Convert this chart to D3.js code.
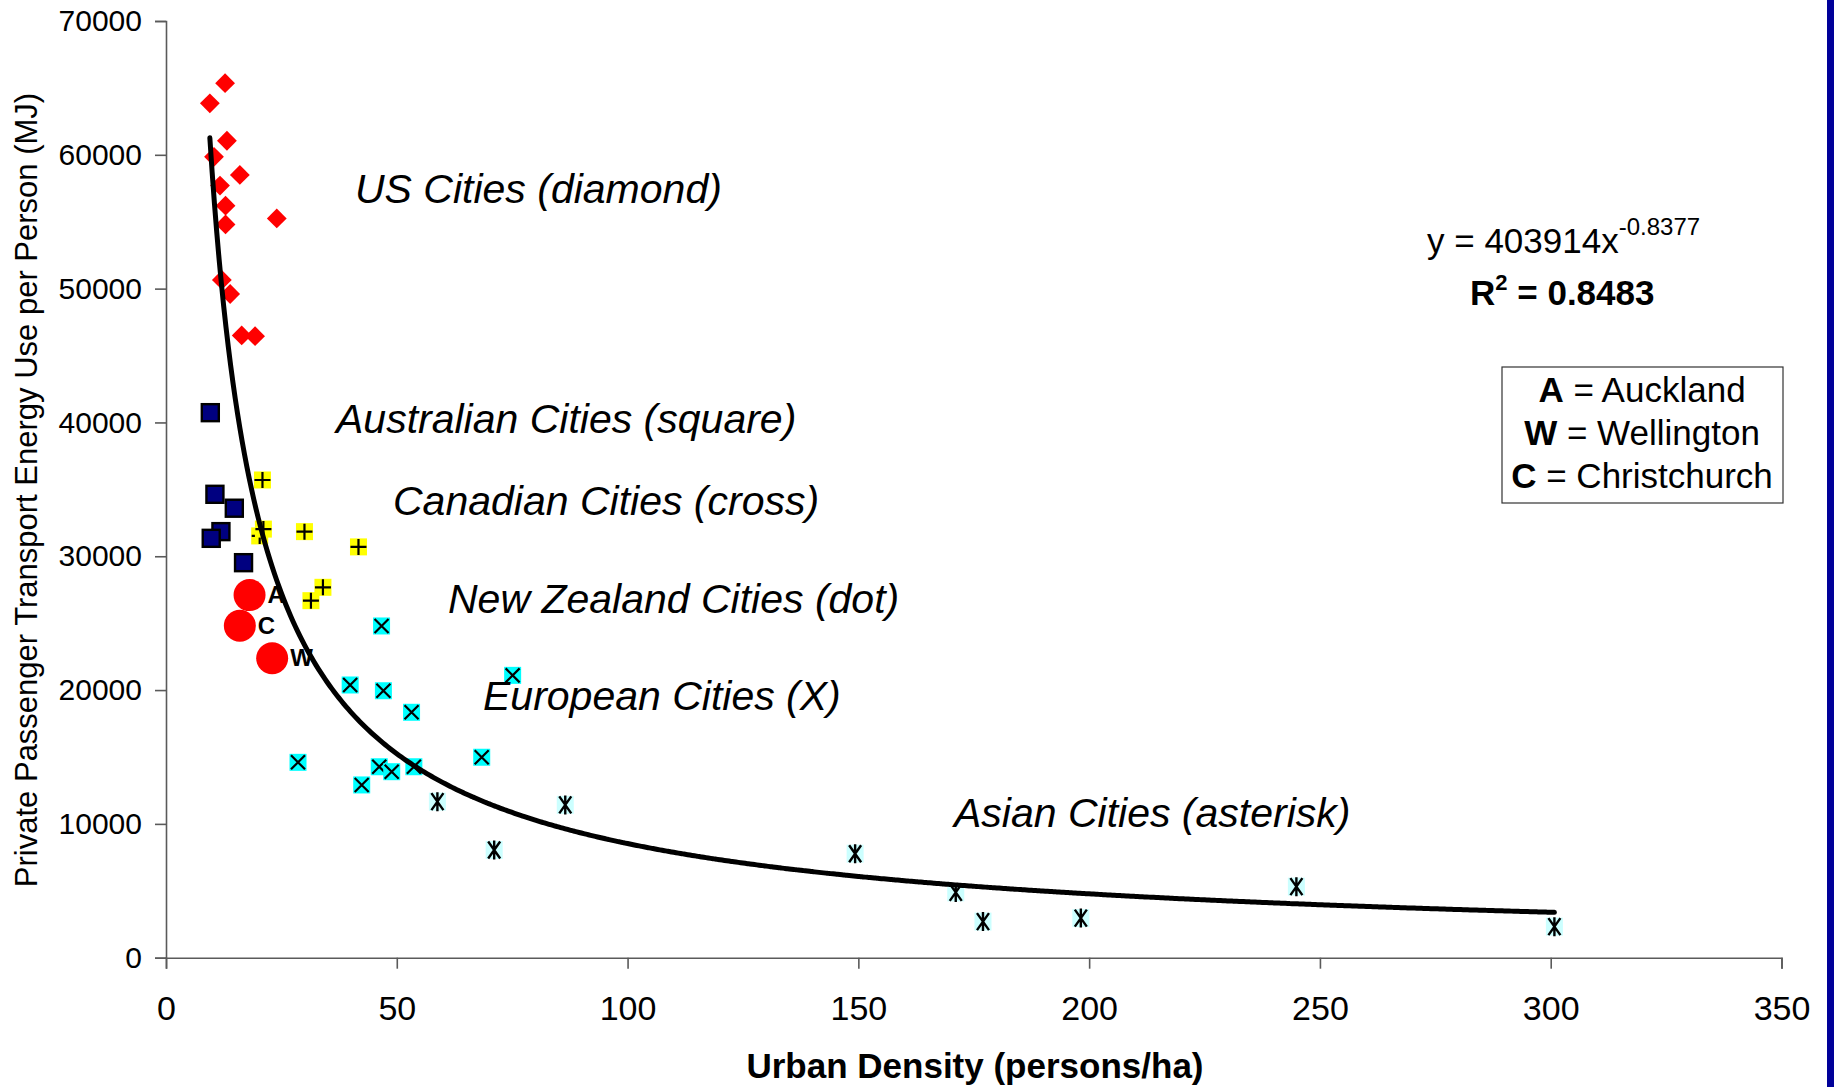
<!DOCTYPE html>
<html>
<head>
<meta charset="utf-8">
<script src="https://cdn.jsdelivr.net/npm/d3@7"></script>
<style>
  body { margin: 0; background: #fff; }
  svg { display: block; font-family: "Liberation Sans", Arial, sans-serif; }
</style>
</head>
<body>
<svg id="mainsvg" width="1834" height="1087"></svg>
<script>
// city data: [urban density (persons/ha), private transport energy (MJ/person)]
const usCities = [[12.8,65350],[9.5,63850],[13.2,61050],[10.4,59850],[16.0,58500],[11.7,57700],[12.9,56200],
                  [12.9,54800],[24.0,55250],[12.1,50650],[13.9,49600],[16.4,46500],[19.3,46450]];
const australianCities = [[9.6,40730],[10.6,34630],[14.8,33590],[11.9,31840],[9.8,31340],[16.8,29520]];
const canadianCities = [[20.9,35700],[20.3,31520],[21.1,32030],[30.0,31840],[41.7,30700],[34.0,27680],[31.4,26680]];
const nzCities = [[18.1,27100,'A'],[16.0,24810,'C'],[23.0,22380,'W']];
const europeanCities = [[46.7,24790],[75.1,21100],[39.9,20380],[47.1,19950],[53.2,18340],[28.6,14600],[68.4,14980],
                        [46.2,14270],[48.9,13900],[53.7,14270],[42.4,12910]];
const asianCities = [[58.8,11660],[71.1,8050],[86.5,11420],[149.3,7770],[171.1,4880],[177.0,2700],[198.2,2960],
                     [244.9,5310],[300.8,2320]];

const xTicks = [0, 50, 100, 150, 200, 250, 300, 350];
const yTicks = [0, 10000, 20000, 30000, 40000, 50000, 60000, 70000];

// power trendline shown on the chart
const trendCoef = 403914;
const trendExp = -0.8377;
const trendRange = [9.5, 300.8];

const groupLabels = [
  {text: 'US Cities (diamond)', x: 355, y: 203},
  {text: 'Australian Cities (square)', x: 336, y: 433},
  {text: 'Canadian Cities (cross)', x: 393, y: 515},
  {text: 'New Zealand Cities (dot)', x: 448, y: 613},
  {text: 'European Cities (X)', x: 483, y: 710},
  {text: 'Asian Cities (asterisk)', x: 954, y: 827}
];
const nzKey = [['A', 'Auckland'], ['W', 'Wellington'], ['C', 'Christchurch']];

const svg = d3.select('#mainsvg');
const margin = {top: 21, left: 166};
const width = 1615.5;
const height = 936.7;
const chartGroup = svg.append('g').attr('transform', `translate(${margin.left},${margin.top})`);

const xScale = d3.scaleLinear().domain([0, 350]).range([0, width]);
const yScale = d3.scaleLinear().domain([0, 70000]).range([height, 0]);

// blue strip at the right edge of the slide
svg.append('rect').attr('x', 1827).attr('y', 0).attr('width', 7).attr('height', 1087).attr('fill', '#000099');

// axes
const xAxis = chartGroup.append('g')
  .attr('transform', `translate(0, ${height})`)
  .call(d3.axisBottom(xScale).tickValues(xTicks).tickFormat(d3.format('d')).tickSizeOuter(0).tickSize(11).tickPadding(27));
const yAxis = chartGroup.append('g')
  .call(d3.axisLeft(yScale).tickValues(yTicks).tickFormat(d3.format('d')).tickSizeOuter(0).tickSize(11).tickPadding(13));
xAxis.style('font-size', '34px');
yAxis.style('font-size', '30px');
[xAxis, yAxis].forEach(a => {
  a.selectAll('path, line').attr('stroke', '#5a5a5a').attr('stroke-width', 1.6);
  a.selectAll('text').attr('fill', '#000').style('font-family', '"Liberation Sans", Arial, sans-serif');
});

// axis titles
svg.append('text')
  .attr('x', 975).attr('y', 1078)
  .attr('text-anchor', 'middle')
  .style('font-size', '35px').style('font-weight', 'bold')
  .text('Urban Density (persons/ha)');
svg.append('text')
  .attr('transform', 'rotate(-90)')
  .attr('x', -490).attr('y', 37)
  .attr('text-anchor', 'middle')
  .style('font-size', '31px')
  .text('Private Passenger Transport Energy Use per Person (MJ)');

const px = d => xScale(d[0]);
const py = d => yScale(d[1]);

// Asian cities: asterisk on pale cyan
const asian = chartGroup.selectAll('.asian').data(asianCities).enter().append('g')
  .attr('class', 'asian').attr('transform', d => `translate(${px(d)},${py(d)})`);
asian.append('rect').attr('x', -8.5).attr('y', -9).attr('width', 17).attr('height', 18).attr('fill', '#ccffff');
asian.append('path').attr('d', 'M-6,-8.5L6,8.5M6,-8.5L-6,8.5M0,-9.5V9.5')
  .attr('stroke', '#000').attr('stroke-width', 2.4).attr('fill', 'none');

// European cities: X on cyan
const euro = chartGroup.selectAll('.euro').data(europeanCities).enter().append('g')
  .attr('class', 'euro').attr('transform', d => `translate(${px(d)},${py(d)})`);
euro.append('rect').attr('x', -8.5).attr('y', -8.5).attr('width', 17).attr('height', 17).attr('fill', '#00ffff');
euro.append('path').attr('d', 'M-7,-7L7,7M7,-7L-7,7')
  .attr('stroke', '#000').attr('stroke-width', 2.2).attr('fill', 'none');

// US cities: red diamonds
chartGroup.selectAll('.us').data(usCities).enter().append('path')
  .attr('class', 'us')
  .attr('d', d3.symbol().type(d3.symbolSquare).size(196))
  .attr('transform', d => `translate(${px(d)},${py(d)}) rotate(45)`)
  .attr('fill', '#ff0000');

// Australian cities: navy squares
chartGroup.selectAll('.aus').data(australianCities).enter().append('rect')
  .attr('class', 'aus')
  .attr('x', d => px(d) - 8.5).attr('y', d => py(d) - 8.5)
  .attr('width', 17).attr('height', 17)
  .attr('fill', '#000080').attr('stroke', '#000').attr('stroke-width', 2.4);

// Canadian cities: cross on yellow
const can = chartGroup.selectAll('.can').data(canadianCities).enter().append('g')
  .attr('class', 'can').attr('transform', d => `translate(${px(d)},${py(d)})`);
can.append('rect').attr('x', -8.5).attr('y', -8.5).attr('width', 17).attr('height', 17).attr('fill', '#ffff00');
can.append('path').attr('d', 'M-8,0H8M0,-8V8')
  .attr('stroke', '#000').attr('stroke-width', 2.2).attr('fill', 'none');

// New Zealand cities: red dots with letter labels
chartGroup.selectAll('.nz').data(nzCities).enter().append('circle')
  .attr('class', 'nz')
  .attr('cx', px).attr('cy', py).attr('r', 16)
  .attr('fill', '#ff0000');
chartGroup.selectAll('.nzlab').data(nzCities).enter().append('text')
  .attr('class', 'nzlab')
  .attr('x', d => px(d) + 18).attr('y', d => py(d) + 8)
  .style('font-size', '24px').style('font-weight', 'bold')
  .text(d => d[2]);

// trendline
const trendX = d3.range(trendRange[0], trendRange[1], 0.5).concat([trendRange[1]]);
chartGroup.append('path')
  .datum(trendX)
  .attr('d', d3.line().x(d => xScale(d)).y(d => yScale(trendCoef * Math.pow(d, trendExp))).curve(d3.curveMonotoneX))
  .attr('fill', 'none').attr('stroke', '#000').attr('stroke-width', 5).attr('stroke-linecap', 'round');

// group annotations
svg.selectAll('.glab').data(groupLabels).enter().append('text')
  .attr('class', 'glab')
  .attr('x', d => d.x).attr('y', d => d.y)
  .style('font-size', '41px').style('font-style', 'italic')
  .text(d => d.text);

// equation and R^2
const eq = svg.append('text').attr('x', 1427).attr('y', 253).style('font-size', '35px');
eq.append('tspan').text('y = 403914x');
eq.append('tspan').attr('dy', -18).style('font-size', '24px').text('-0.8377');
const r2 = svg.append('text').attr('x', 1470).attr('y', 305).style('font-size', '35px').style('font-weight', 'bold');
r2.append('tspan').text('R');
r2.append('tspan').attr('dy', -15).style('font-size', '22px').text('2');
r2.append('tspan').attr('dy', 15).text(' = 0.8483');

// NZ key box
svg.append('rect').attr('x', 1502).attr('y', 367).attr('width', 281).attr('height', 136)
  .attr('fill', '#fff').attr('stroke', '#333').attr('stroke-width', 1.2);
const key = svg.selectAll('.key').data(nzKey).enter().append('text')
  .attr('class', 'key')
  .attr('x', 1642).attr('y', (d, i) => 402 + i * 43)
  .attr('text-anchor', 'middle')
  .style('font-size', '35px');
key.append('tspan').style('font-weight', 'bold').text(d => d[0]);
key.append('tspan').text(d => ' = ' + d[1]);
</script>
</body>
</html>
